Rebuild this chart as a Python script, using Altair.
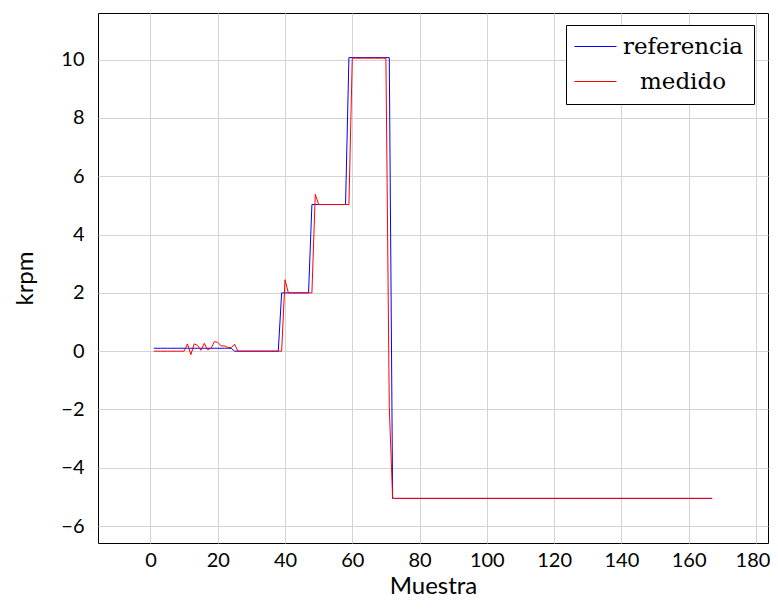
import altair as alt
import pandas as pd

# Sample index (x) and the two series
samples = list(range(1, 168))

referencia = (
    [0.1] * 24        # samples 1-24
    + [0.0] * 14      # 25-38
    + [2.0] * 9       # 39-47
    + [5.03] * 11     # 48-58
    + [10.07] * 13    # 59-71
    + [-5.05] * 96    # 72-167
)

medido_noise = [0.25, -0.12, 0.25, 0.2, 0.03, 0.27, 0.05, 0.1,
                0.33, 0.3, 0.18, 0.18, 0.13, 0.12, 0.24, 0.0]   # samples 11-26
medido = (
    [0.0] * 10        # 1-10
    + medido_noise    # 11-26
    + [0.0] * 13      # 27-39
    + [2.45]          # 40
    + [2.0] * 8       # 41-48
    + [5.38]          # 49
    + [5.03] * 10     # 50-59
    + [10.05] * 11    # 60-70
    + [-1.9]          # 71
    + [-5.05] * 96    # 72-167
)

series_names = ["referencia", "medido"]
series_colors = ["#0000ff", "#ff0000"]
x_ticks = [0, 20, 40, 60, 80, 100, 120, 140, 160, 180]
y_ticks = [-6, -4, -2, 0, 2, 4, 6, 8, 10]

df = pd.DataFrame({
    "Muestra": samples + samples,
    "krpm": referencia + medido,
    "serie": ["referencia"] * len(samples) + ["medido"] * len(samples),
})

x_enc = alt.X("Muestra:Q", title="Muestra",
              scale=alt.Scale(domain=[-15.6, 183.6], nice=False, zero=False),
              axis=alt.Axis(values=x_ticks, format="d",
                            labelFlush=13, labelFlushOffset=14))
y_enc = alt.Y("krpm:Q", title="krpm",
              scale=alt.Scale(domain=[-6.58, 11.6], nice=False, zero=False),
              axis=alt.Axis(values=y_ticks, format="d"))
color_enc = alt.Color("serie:N",
                      scale=alt.Scale(domain=series_names, range=series_colors),
                      legend=alt.Legend(title=None))

base = alt.Chart(df).mark_line(strokeWidth=1, clip=True).encode(
    x=x_enc, y=y_enc, color=color_enc, order="Muestra:Q"
)

ref_layer = base.transform_filter(alt.datum.serie == "referencia")
med_layer = base.transform_filter(alt.datum.serie == "medido")

chart = alt.layer(ref_layer, med_layer).properties(
    width=670,
    height=530,
    padding={"left": 90, "top": 5, "right": 2, "bottom": 54},
    autosize=alt.AutoSizeParams(type="none"),
).configure_view(
    stroke="black", strokeWidth=1
).configure_axis(
    grid=True,
    gridColor="#d3d3d3",
    gridWidth=1,
    domain=False,
    ticks=False,
    labelFont="Lato",
    labelFontSize=20,
    labelColor="black",
    titleFont="Lato",
    titleFontSize=24,
    titleFontWeight="normal",
    titleColor="black",
).configure_axisX(
    labelPadding=7,
    titlePadding=4,
).configure_axisY(
    labelPadding=14,
    titlePadding=23,
).configure_legend(
    orient="none",
    legendX=468,
    legendY=12,
    direction="vertical",
    strokeColor="black",
    fillColor="white",
    padding=10,
    cornerRadius=0,
    symbolType="M-1.86,0H4.14",
    symbolSize=196,
    symbolStrokeWidth=1,
    labelFont="DejaVu Serif",
    labelFontSize=23,
    labelColor="black",
    labelAlign="center",
    labelOffset=84,
    rowPadding=11,
)

chart.save("out.html", embed_options={"renderer": "svg", "actions": False})
